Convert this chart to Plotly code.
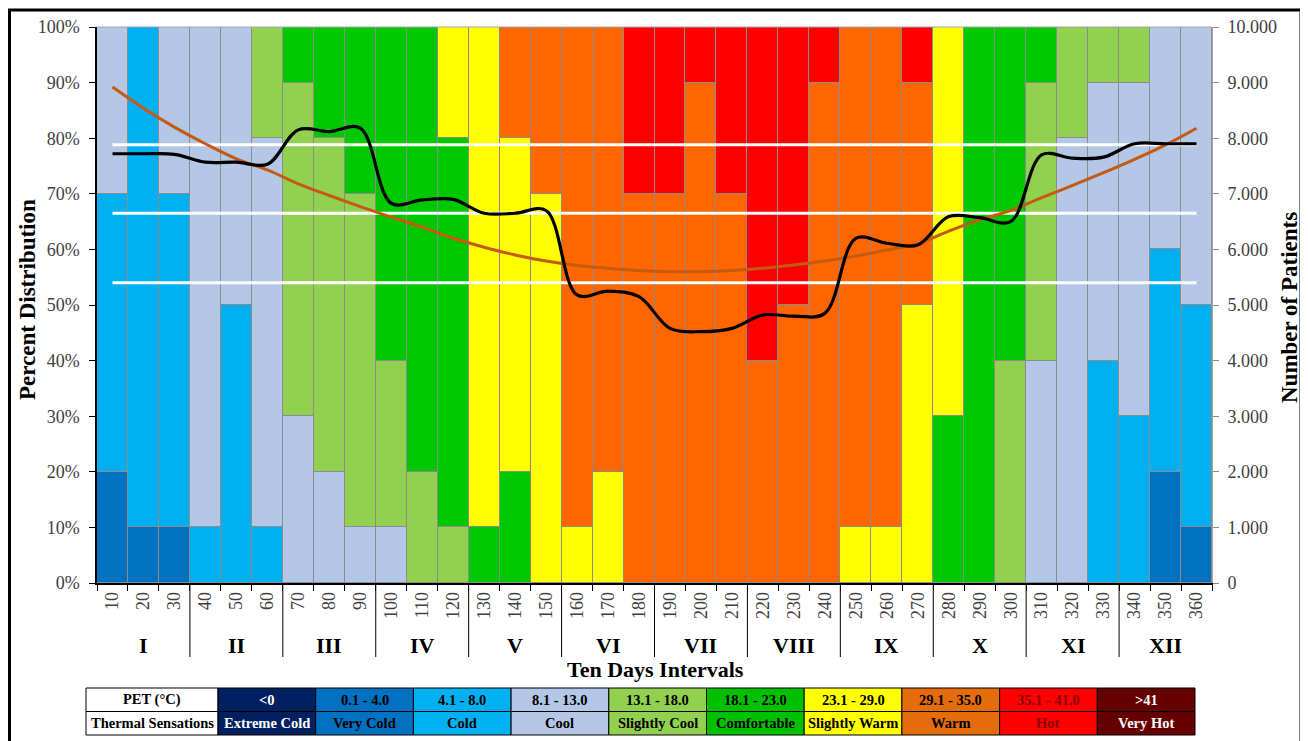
import plotly.graph_objects as go

# ---------------- data ----------------
intervals = ["10", "20", "30", "40", "50", "60", "70", "80", "90", "100", "110", "120",
             "130", "140", "150", "160", "170", "180", "190", "200", "210", "220", "230", "240",
             "250", "260", "270", "280", "290", "300", "310", "320", "330", "340", "350", "360"]
months = ["I", "II", "III", "IV", "V", "VI", "VII", "VIII", "IX", "X", "XI", "XII"]
pct_ticks = [0, 10, 20, 30, 40, 50, 60, 70, 80, 90, 100]
pct_labels = ["0%", "10%", "20%", "30%", "40%", "50%", "60%", "70%", "80%", "90%", "100%"]

very_cold     = [20, 10, 10, 0, 0, 0,  0, 0, 0, 0, 0, 0,  0, 0, 0, 0, 0, 0,  0, 0, 0, 0, 0, 0,  0, 0, 0, 0, 0, 0,  0, 0, 0, 0, 20, 10]
cold          = [50, 90, 60, 10, 50, 10,  0, 0, 0, 0, 0, 0,  0, 0, 0, 0, 0, 0,  0, 0, 0, 0, 0, 0,  0, 0, 0, 0, 0, 0,  0, 0, 40, 30, 40, 40]
cool          = [30, 0, 30, 90, 50, 70,  30, 20, 10, 10, 0, 0,  0, 0, 0, 0, 0, 0,  0, 0, 0, 0, 0, 0,  0, 0, 0, 0, 0, 0,  40, 80, 50, 60, 40, 50]
slightly_cool = [0, 0, 0, 0, 0, 20,  60, 60, 60, 30, 20, 10,  0, 0, 0, 0, 0, 0,  0, 0, 0, 0, 0, 0,  0, 0, 0, 0, 0, 40,  50, 20, 10, 10, 0, 0]
comfortable   = [0, 0, 0, 0, 0, 0,  10, 20, 30, 60, 80, 70,  10, 20, 0, 0, 0, 0,  0, 0, 0, 0, 0, 0,  0, 0, 0, 30, 100, 60,  10, 0, 0, 0, 0, 0]
slightly_warm = [0, 0, 0, 0, 0, 0,  0, 0, 0, 0, 0, 20,  90, 60, 70, 10, 20, 0,  0, 0, 0, 0, 0, 0,  10, 10, 50, 70, 0, 0,  0, 0, 0, 0, 0, 0]
warm          = [0, 0, 0, 0, 0, 0,  0, 0, 0, 0, 0, 0,  0, 20, 30, 90, 80, 70,  70, 90, 70, 40, 50, 90,  90, 90, 40, 0, 0, 0,  0, 0, 0, 0, 0, 0]
hot           = [0, 0, 0, 0, 0, 0,  0, 0, 0, 0, 0, 0,  0, 0, 0, 0, 0, 30,  30, 10, 30, 60, 50, 10,  0, 0, 10, 0, 0, 0,  0, 0, 0, 0, 0, 0]

patients = [7720, 7720, 7710, 7570, 7570, 7530, 8150, 8120, 8180, 6830, 6890, 6900,
            6650, 6650, 6700, 5180, 5250, 5150, 4580, 4520, 4580, 4820, 4800, 4850,
            6200, 6110, 6080, 6590, 6570, 6500, 7700, 7640, 7660, 7900, 7900, 7900]
trend = [8920, 8540, 8200, 7900, 7630, 7430, 7180, 6970, 6770, 6580, 6400, 6200,
         6040, 5900, 5790, 5710, 5660, 5620, 5600, 5600, 5620, 5660, 5720, 5790,
         5880, 5990, 6100, 6330, 6530, 6700, 6930, 7150, 7380, 7620, 7880, 8180]
upper_level = 7880
mean_level = 6650
lower_level = 5400

series_names = ["Very Cold", "Cold", "Cool", "Slightly Cool", "Comfortable", "Slightly Warm", "Warm", "Hot"]
series_values = [very_cold, cold, cool, slightly_cool, comfortable, slightly_warm, warm, hot]
series_colors = ["#0070C0", "#00B0F0", "#B4C7E7", "#92D050", "#00C800", "#FFFF00", "#FF6600", "#FF0000"]

pet_ranges = ["PET (°C)", "<0", "0.1 - 4.0", "4.1 - 8.0", "8.1 - 13.0", "13.1 - 18.0",
              "18.1 - 23.0", "23.1 - 29.0", "29.1 - 35.0", "35.1 - 41.0", ">41"]
sensations = ["Thermal Sensations", "Extreme Cold", "Very Cold", "Cold", "Cool", "Slightly Cool",
              "Comfortable", "Slightly Warm", "Warm", "Hot", "Very Hot"]
table_fill = ["#FFFFFF", "#002060", "#0070C0", "#00B0F0", "#B4C7E7", "#92D050",
              "#00C000", "#FFFF00", "#E46C0A", "#FF0000", "#640000"]
table_font = ["#000000", "#FFFFFF", "#000000", "#000000", "#000000", "#000000",
              "#000000", "#000000", "#000000", "#8B0000", "#FFFFFF"]

# ---------------- geometry helpers (layout only, page pixel coords) ----------------
PAGE_OFF = 8            # default body margin of the html page
W, H = 1308 - PAGE_OFF, 741 - PAGE_OFF
PL, PR, PT, PB = 97, 1212, 27, 583   # plot area in page pixels
L, T = PL - PAGE_OFF, PT - PAGE_OFF
R = W - (PR - PAGE_OFF)
B = H - (PB - PAGE_OFF)
PW, PH = PR - PL, PB - PT


def px(xp):
    return (xp - PL) / PW


def py(yp):
    return (PB - yp) / PH


SERIF = "Liberation Serif, Times New Roman, serif"

fig = go.Figure()

for name, vals, col in zip(series_names, series_values, series_colors):
    fig.add_trace(go.Bar(x=intervals, y=vals, name=name,
                         marker=dict(color=col, line=dict(color="#8C8C8C", width=1)),
                         showlegend=False, hoverinfo="x+y+name"))

for lvl in [upper_level, mean_level, lower_level]:
    fig.add_trace(go.Scatter(x=[intervals[0], intervals[-1]], y=[lvl, lvl], mode="lines", yaxis="y2",
                             line=dict(color="#FFFFFF", width=3), showlegend=False, hoverinfo="skip"))

fig.add_trace(go.Scatter(x=intervals, y=trend, mode="lines", yaxis="y2",
                         line=dict(color="#C55A11", width=3, shape="spline", smoothing=1.0),
                         showlegend=False, name="Trend"))
fig.add_trace(go.Scatter(x=intervals, y=patients, mode="lines", yaxis="y2",
                         line=dict(color="#000000", width=3.2, shape="spline", smoothing=1.0),
                         showlegend=False, name="Number of Patients"))

shapes = []
shapes.append(dict(type="line", xref="paper", yref="paper", x0=0, x1=1, y0=1, y1=1,
                   line=dict(color="#A6A6A6", width=1)))
for k in range(1, 12):
    shapes.append(dict(type="line", xref="x", yref="paper", x0=3 * k - 0.5, x1=3 * k - 0.5,
                       y0=0, y1=py(657), line=dict(color="#000000", width=1)))
shapes.append(dict(type="rect", xref="paper", yref="paper", x0=px(9.5), x1=px(1301), y0=py(10), y1=py(760),
                   line=dict(color="#000000", width=3), fillcolor="rgba(0,0,0,0)", layer="above"))

annotations = []
for i, m in enumerate(months):
    annotations.append(dict(text=f"<b>{m}</b>", xref="x", yref="paper", x=3 * i + 1, y=py(645),
                            showarrow=False, font=dict(family=SERIF, size=22, color="#000000"),
                            xanchor="center", yanchor="middle"))
annotations.append(dict(text="<b>Ten Days Intervals</b>", xref="paper", yref="paper", x=px(655), y=py(669),
                        showarrow=False, font=dict(family=SERIF, size=22, color="#000000"),
                        xanchor="center", yanchor="middle"))
annotations.append(dict(text="<b>Percent Distribution</b>", xref="paper", yref="paper", x=px(28), y=py(300),
                        textangle=-90, showarrow=False, font=dict(family=SERIF, size=23, color="#000000"),
                        xanchor="center", yanchor="middle"))
annotations.append(dict(text="<b>Number of Patients</b>", xref="paper", yref="paper", x=px(1289), y=py(308),
                        textangle=-90, showarrow=False, font=dict(family=SERIF, size=23, color="#000000"),
                        xanchor="center", yanchor="middle"))

col_edges = [86, 218] + [218 + 97.7 * i for i in range(1, 11)]
row_edges = [688, 711.5, 735]
for r, row in enumerate([pet_ranges, sensations]):
    for c, txt in enumerate(row):
        x0, x1 = col_edges[c], col_edges[c + 1]
        y0, y1 = row_edges[r], row_edges[r + 1]
        shapes.append(dict(type="rect", xref="paper", yref="paper", x0=px(x0), x1=px(x1), y0=py(y0), y1=py(y1),
                           fillcolor=table_fill[c], line=dict(color="#000000", width=1)))
        annotations.append(dict(text=f"<b>{txt.replace('<', '&lt;').replace('>', '&gt;')}</b>",
                                xref="paper", yref="paper", x=px((x0 + x1) / 2), y=py((y0 + y1) / 2),
                                showarrow=False, font=dict(family=SERIF, size=14.5, color=table_font[c]),
                                xanchor="center", yanchor="middle"))

fig.update_layout(
    width=W, height=H,
    autosize=False,
    margin=dict(l=L, r=R, t=T, b=B, pad=0, autoexpand=False),
    paper_bgcolor="#FFFFFF", plot_bgcolor="#FFFFFF",
    barmode="stack", bargap=0,
    separators=",.",
    showlegend=False,
    shapes=shapes, annotations=annotations,
    xaxis=dict(type="category", tickangle=-90, tickson="boundaries", ticks="outside", ticklen=6,
               tickcolor="#000000", showline=True, linecolor="#000000", linewidth=1.5,
               showgrid=False, tickfont=dict(family=SERIF, size=18, color="#404040"),
               range=[-0.5, 35.5]),
    yaxis=dict(range=[0, 100], tickmode="array", tickvals=pct_ticks, ticktext=pct_labels,
               ticks="outside", ticklen=6, tickcolor="#000000", showline=True, linecolor="#000000",
               linewidth=1.5, showgrid=False, zeroline=False, ticklabelstandoff=6,
               tickfont=dict(family=SERIF, size=18, color="#404040")),
    yaxis2=dict(range=[0, 10000], dtick=1000, tickformat=",d", overlaying="y", side="right",
                ticks="outside", ticklen=6, tickcolor="#8C8C8C", showline=True, linecolor="#A6A6A6",
                linewidth=1, showgrid=False, zeroline=False, ticklabelstandoff=5,
                tickfont=dict(family=SERIF, size=18, color="#404040")),
)

fig.write_html("out.html")
